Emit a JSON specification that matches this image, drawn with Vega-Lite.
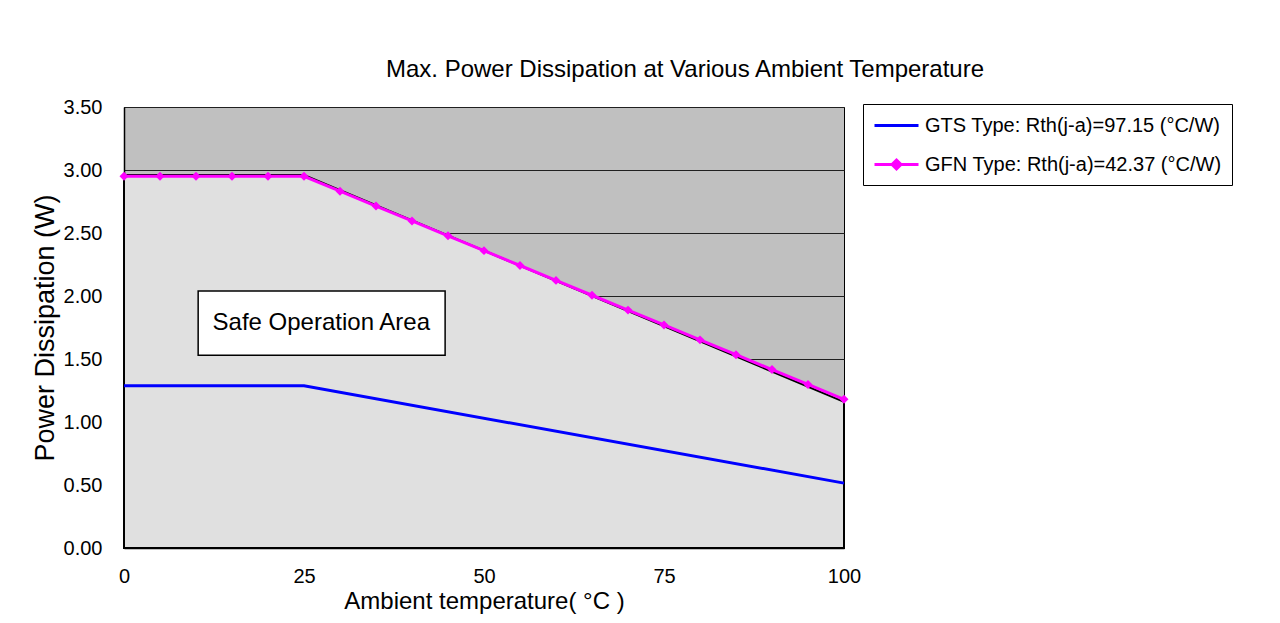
{
  "$schema": "https://vega.github.io/schema/vega-lite/v6.json",
  "width": 720,
  "height": 441,
  "autosize": {"type": "none"},
  "padding": {"left": 124, "top": 107, "right": 436, "bottom": 75},
  "background": "white",
  "title": {
    "text": "Max. Power Dissipation at Various Ambient Temperature",
    "anchor": "middle",
    "frame": "group",
    "dx": 201,
    "offset": 15,
    "font": "Liberation Sans",
    "fontSize": 24,
    "fontWeight": "normal",
    "color": "black"
  },
  "config": {
    "view": {"fill": "#C0C0C0", "stroke": "#000000", "strokeWidth": 1},
    "font": "Liberation Sans",
    "axis": {
      "labelFont": "Liberation Sans",
      "labelFontSize": 20,
      "labelColor": "black",
      "labelFlush": false,
      "titleFont": "Liberation Sans",
      "titleFontSize": 24,
      "titleFontWeight": "normal",
      "titleColor": "black",
      "domainColor": "black",
      "domainWidth": 1.5,
      "ticks": false
    }
  },
  "datasets": {
    "safe": [
      {"t": 0, "p": 2.96},
      {"t": 25, "p": 2.96},
      {"t": 100, "p": 1.16}
    ],
    "box": [
      {"x1": 10.3, "x2": 44.6, "y1": 1.53, "y2": 2.04, "cx": 27.4, "cy": 1.786, "label": "Safe Operation Area"}
    ],
    "series": [
      {"s": "GTS Type: Rth(j-a)=97.15 (°C/W)", "t": 0, "p": 1.287},
      {"s": "GTS Type: Rth(j-a)=97.15 (°C/W)", "t": 25, "p": 1.287},
      {"s": "GTS Type: Rth(j-a)=97.15 (°C/W)", "t": 100, "p": 0.515},
      {"s": "GFN Type: Rth(j-a)=42.37 (°C/W)", "t": 0, "p": 2.95},
      {"s": "GFN Type: Rth(j-a)=42.37 (°C/W)", "t": 5, "p": 2.95},
      {"s": "GFN Type: Rth(j-a)=42.37 (°C/W)", "t": 10, "p": 2.95},
      {"s": "GFN Type: Rth(j-a)=42.37 (°C/W)", "t": 15, "p": 2.95},
      {"s": "GFN Type: Rth(j-a)=42.37 (°C/W)", "t": 20, "p": 2.95},
      {"s": "GFN Type: Rth(j-a)=42.37 (°C/W)", "t": 25, "p": 2.95},
      {"s": "GFN Type: Rth(j-a)=42.37 (°C/W)", "t": 30, "p": 2.832},
      {"s": "GFN Type: Rth(j-a)=42.37 (°C/W)", "t": 35, "p": 2.714},
      {"s": "GFN Type: Rth(j-a)=42.37 (°C/W)", "t": 40, "p": 2.596},
      {"s": "GFN Type: Rth(j-a)=42.37 (°C/W)", "t": 45, "p": 2.478},
      {"s": "GFN Type: Rth(j-a)=42.37 (°C/W)", "t": 50, "p": 2.36},
      {"s": "GFN Type: Rth(j-a)=42.37 (°C/W)", "t": 55, "p": 2.242},
      {"s": "GFN Type: Rth(j-a)=42.37 (°C/W)", "t": 60, "p": 2.124},
      {"s": "GFN Type: Rth(j-a)=42.37 (°C/W)", "t": 65, "p": 2.006},
      {"s": "GFN Type: Rth(j-a)=42.37 (°C/W)", "t": 70, "p": 1.888},
      {"s": "GFN Type: Rth(j-a)=42.37 (°C/W)", "t": 75, "p": 1.77},
      {"s": "GFN Type: Rth(j-a)=42.37 (°C/W)", "t": 80, "p": 1.652},
      {"s": "GFN Type: Rth(j-a)=42.37 (°C/W)", "t": 85, "p": 1.534},
      {"s": "GFN Type: Rth(j-a)=42.37 (°C/W)", "t": 90, "p": 1.416},
      {"s": "GFN Type: Rth(j-a)=42.37 (°C/W)", "t": 95, "p": 1.298},
      {"s": "GFN Type: Rth(j-a)=42.37 (°C/W)", "t": 100, "p": 1.18}
    ]
  },
  "layer": [
    {
      "data": {"name": "safe"},
      "mark": {"type": "area", "fill": "#E0E0E0", "stroke": "black", "strokeWidth": 2},
      "encoding": {
        "x": {
          "field": "t", "type": "quantitative",
          "scale": {"domain": [0, 100], "nice": false},
          "axis": {
            "values": [0, 25, 50, 75, 100],
            "labelPadding": 18,
            "title": "Ambient temperature( °C )",
            "titlePadding": 3,
            "grid": false
          }
        },
        "y": {
          "field": "p", "type": "quantitative",
          "scale": {"domain": [0, 3.5], "nice": false},
          "axis": {
            "values": [0, 0.5, 1, 1.5, 2, 2.5, 3, 3.5],
            "format": ".2f",
            "labelPadding": 22,
            "title": "Power Dissipation (W)",
            "titleFontSize": 27,
            "titlePadding": 4,
            "grid": true,
            "gridColor": "#202020",
            "gridWidth": 1,
            "gridOpacity": 1
          }
        }
      }
    },
    {
      "data": {"name": "box"},
      "mark": {"type": "rect", "fill": "white", "stroke": "black", "strokeWidth": 1.5},
      "encoding": {
        "x": {"field": "x1", "type": "quantitative"},
        "x2": {"field": "x2"},
        "y": {"field": "y1", "type": "quantitative"},
        "y2": {"field": "y2"}
      }
    },
    {
      "data": {"name": "box"},
      "mark": {"type": "text", "font": "Liberation Sans", "fontSize": 24, "color": "black", "align": "center", "baseline": "middle"},
      "encoding": {
        "x": {"field": "cx", "type": "quantitative"},
        "y": {"field": "cy", "type": "quantitative"},
        "text": {"field": "label"}
      }
    },
    {
      "data": {"name": "series"},
      "mark": {"type": "line", "strokeWidth": 3},
      "encoding": {
        "x": {"field": "t", "type": "quantitative"},
        "y": {"field": "p", "type": "quantitative"},
        "color": {
          "field": "s", "type": "nominal",
          "scale": {
            "domain": ["GTS Type: Rth(j-a)=97.15 (°C/W)", "GFN Type: Rth(j-a)=42.37 (°C/W)"],
            "range": ["#0000FF", "#FF00FF"]
          },
          "legend": {
            "title": null,
            "orient": "none",
            "legendX": 739,
            "legendY": -3,
            "direction": "vertical",
            "fillColor": "white",
            "strokeColor": "black",
            "padding": 10,
            "labelFont": "Liberation Sans",
            "labelFontSize": 20,
            "labelColor": "black",
            "labelLimit": 400,
            "symbolSize": 400,
            "symbolStrokeWidth": 3,
            "labelOffset": 29,
            "rowPadding": 17,
            "encode": {
              "symbols": {
                "update": {
                  "shape": {"signal": "datum.index === 1 ? 'M-1,0H3.4M1.2,-0.45L1.65,0L1.2,0.45L0.75,0Z' : 'M-1,0H3.4'"},
                  "stroke": {"signal": "datum.index === 1 ? '#FF00FF' : '#000080'"},
                  "fill": {"signal": "datum.index === 1 ? '#FF00FF' : 'transparent'"}
                }
              }
            }
          }
        }
      }
    },
    {
      "data": {"name": "series"},
      "transform": [{"filter": {"field": "s", "equal": "GFN Type: Rth(j-a)=42.37 (°C/W)"}}],
      "mark": {"type": "point", "shape": "diamond", "filled": true, "size": 80, "color": "#FF00FF", "opacity": 1},
      "encoding": {
        "x": {"field": "t", "type": "quantitative"},
        "y": {"field": "p", "type": "quantitative"}
      }
    }
  ]
}
